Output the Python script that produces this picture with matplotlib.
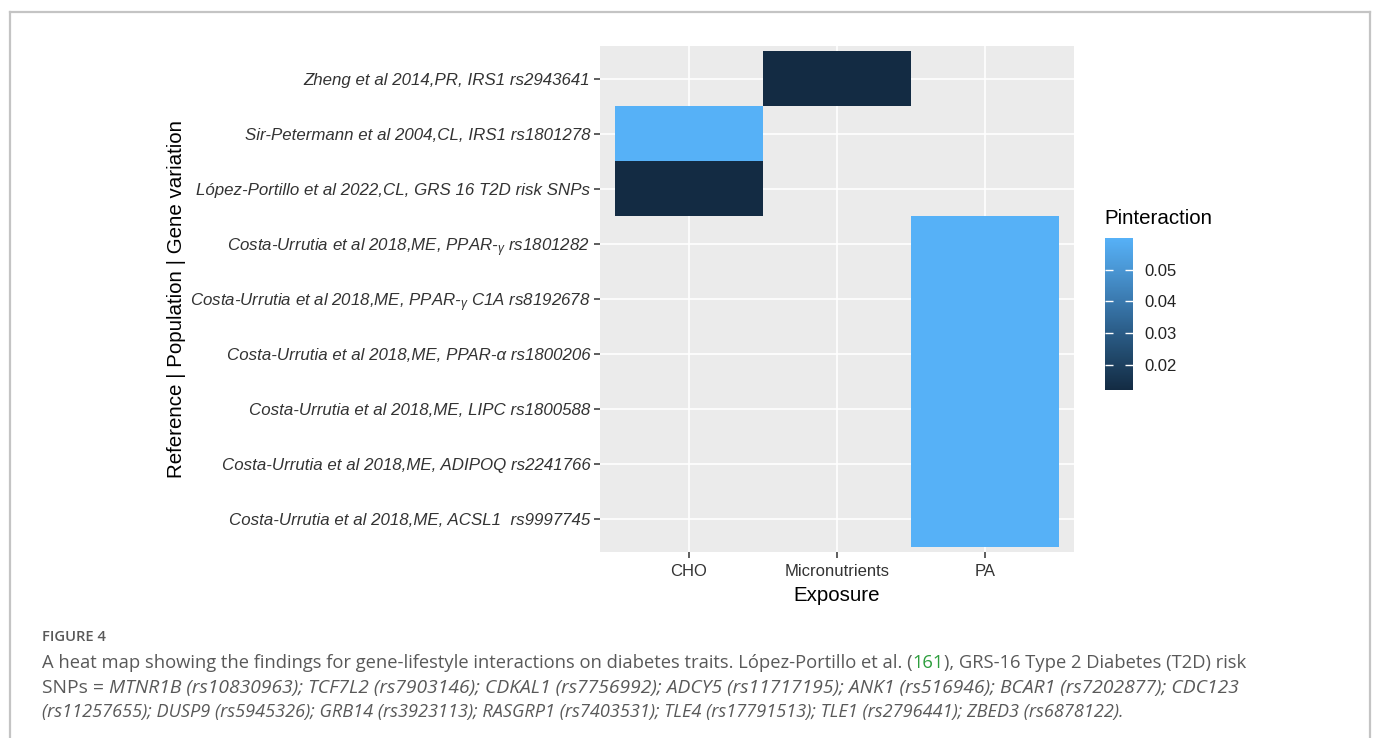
import numpy as np
import matplotlib
matplotlib.use("Agg")
import matplotlib.pyplot as plt
from matplotlib.colors import LinearSegmentedColormap
from matplotlib.lines import Line2D

plt.rcParams['font.family'] = ['Liberation Sans', 'DejaVu Sans']
plt.rcParams['mathtext.fontset'] = 'custom'
plt.rcParams['mathtext.it'] = 'Liberation Sans:italic'
plt.rcParams['mathtext.rm'] = 'Liberation Sans:italic'

# ---------------- data ----------------
studies = [  # top to bottom
    "Zheng et al 2014,PR, IRS1 rs2943641",
    "Sir-Petermann et al 2004,CL, IRS1 rs1801278",
    "López-Portillo et al 2022,CL, GRS 16 T2D risk SNPs",
    r"Costa-Urrutia et al 2018,ME, PPAR-$_{\gamma}$ rs1801282",
    r"Costa-Urrutia et al 2018,ME, PPAR-$_{\gamma}$ C1A rs8192678",
    "Costa-Urrutia et al 2018,ME, PPAR-α rs1800206",
    "Costa-Urrutia et al 2018,ME, LIPC rs1800588",
    "Costa-Urrutia et al 2018,ME, ADIPOQ rs2241766",
    "Costa-Urrutia et al 2018,ME, ACSL1  rs9997745",
]
exposures = ["CHO", "Micronutrients", "PA"]
rec_study = [0, 1, 2, 3, 4, 5, 6, 7, 8]
rec_exposure = ["Micronutrients", "CHO", "CHO", "PA", "PA", "PA", "PA", "PA", "PA"]
rec_p = [0.012, 0.060, 0.012, 0.060, 0.060, 0.060, 0.060, 0.060, 0.060]
cbar_ticks = [0.02, 0.03, 0.04, 0.05]

# ---------------- figure ----------------
fig = plt.figure(figsize=(13.76, 7.38), dpi=100)
W, H = 1376, 738

def fx(x):
    return x / W

def fy(y):
    return 1 - y / H

# outer frame (no bottom edge)
frame_c = '#c4c4c4'
fig.add_artist(Line2D([fx(10), fx(10)], [fy(12), 0], color=frame_c, lw=1.6, transform=fig.transFigure))
fig.add_artist(Line2D([fx(1370), fx(1370)], [fy(12), 0], color=frame_c, lw=1.6, transform=fig.transFigure))
fig.add_artist(Line2D([fx(10), fx(1370)], [fy(12), fy(12)], color=frame_c, lw=1.6, transform=fig.transFigure))

ax = fig.add_axes([fx(600), fy(552), fx(1074) - fx(600), fy(46) - fy(552)])
ax.set_facecolor('#EBEBEB')

cmap = LinearSegmentedColormap.from_list('gg', ['#132B43', '#1F4566', '#2C5F8B', '#3B7BB1', '#4A97D5', '#56B1F7'])

n = len(studies)
grid = np.full((n, len(exposures)), np.nan)
for s, e, p in zip(rec_study, rec_exposure, rec_p):
    row = n - 1 - s  # bottom index 0
    grid[row, exposures.index(e)] = p
vmin, vmax = min(rec_p), max(rec_p)
xe = np.arange(len(exposures) + 1) + 0.5
ye = np.arange(n + 1) - 0.5
mesh = ax.pcolormesh(xe, ye, np.ma.masked_invalid(grid), cmap=cmap, vmin=vmin, vmax=vmax, zorder=2)

ax.set_xlim(0.4, len(exposures) + 0.6)
ax.set_ylim(-0.6, n - 1 + 0.6)
ax.set_xticks(np.arange(1, len(exposures) + 1))
ax.set_xticklabels(exposures)
ax.set_yticks(np.arange(n))
ax.set_yticklabels(studies[::-1], fontstyle='italic')
ax.grid(True, color='white', lw=1.2, zorder=1)
ax.set_axisbelow(True)
for sp in ax.spines.values():
    sp.set_visible(False)
ax.tick_params(axis='both', length=4, width=1.1, color='#333333', labelcolor='#333333')
ax.tick_params(axis='y', labelsize=12.2, pad=3)
ax.tick_params(axis='x', labelsize=12, pad=5)
ax.set_xlabel('Exposure', fontsize=14.8, labelpad=5, color='black')
ax.set_ylabel('Reference | Population | Gene variation', fontsize=14.8, labelpad=3, color='black')

# colour bar
cax = fig.add_axes([fx(1105), fy(390), fx(1133) - fx(1105), fy(238) - fy(390)])
cb = fig.colorbar(mesh, cax=cax, ticks=cbar_ticks)
cb.outline.set_visible(False)
cax.tick_params(direction='in', color='white', length=5.5, width=1, left=True, right=True,
                labelleft=False, labelright=True, labelsize=12, pad=8, labelcolor='#222222')
cax.set_yticklabels([f"{t:.2f}" for t in cbar_ticks])
fig.text(fx(1104), fy(219), 'Pinteraction', fontsize=14.8, ha='left', va='center', color='black')

# caption
cap_font = ['Open Sans', 'DejaVu Sans']
cap_col = '#595959'
fig.text(fx(42), fy(637), 'FIGURE 4', fontsize=10.6, family=cap_font, color=cap_col,
         fontweight='semibold', va='center', ha='left')

renderer = fig.canvas.get_renderer()

def write_line(x, y, pieces, size=13.1):
    cur = fx(x)
    for txt, style, col in pieces:
        t = fig.text(cur, fy(y), txt, fontsize=size, family=cap_font, fontstyle=style,
                     color=col, va='center', ha='left')
        bb = t.get_window_extent(renderer=renderer)
        cur += bb.width / W

write_line(42, 663, [
    ("A heat map showing the findings for gene-lifestyle interactions on diabetes traits. López-Portillo et al. (", 'normal', cap_col),
    ("161", 'normal', '#2e9e3e'),
    ("), GRS-16 Type 2 Diabetes (T2D) risk", 'normal', cap_col),
], size=13.25)
write_line(42, 688, [
    ("SNPs = ", 'normal', cap_col),
    ("MTNR1B (rs10830963); TCF7L2 (rs7903146); CDKAL1 (rs7756992); ADCY5 (rs11717195); ANK1 (rs516946); BCAR1 (rs7202877); CDC123", 'italic', cap_col),
], size=13.9)
write_line(42, 712, [
    ("(rs11257655); DUSP9 (rs5945326); GRB14 (rs3923113); RASGRP1 (rs7403531); TLE4 (rs17791513); TLE1 (rs2796441); ZBED3 (rs6878122).", 'italic', cap_col),
], size=13.1)

fig.savefig('out.png', dpi=100)
